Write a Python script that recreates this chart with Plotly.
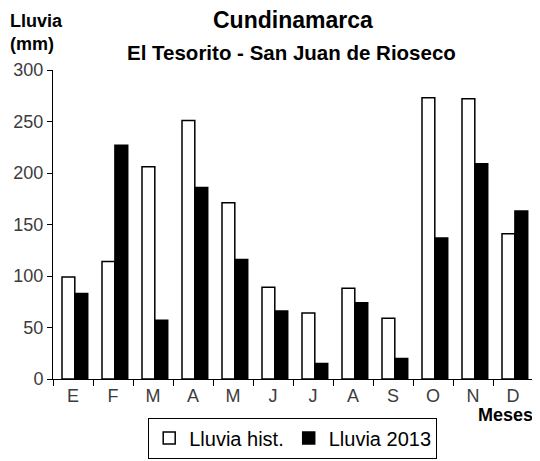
import plotly.graph_objects as go

meses = ["Enero", "Febrero", "Marzo", "Abril", "Mayo", "Junio",
         "Julio", "Agosto", "Septiembre", "Octubre", "Noviembre", "Diciembre"]
etiquetas = ["E", "F", "M", "A", "M", "J", "J", "A", "S", "O", "N", "D"]
lluvia_hist = [99, 114, 206, 251, 171, 89, 64, 88, 59, 273, 272, 141]
lluvia_2013 = [83, 227, 57, 186, 116, 66, 15, 74, 20, 137, 209, 163]

FONT = "Liberation Sans, Arial, sans-serif"

# page has an 8px body margin; figure coordinates = page coordinates - 8
OFF = 8
W, H = 540 - OFF, 461 - OFF
PL, PR, PT, PB = 53.3, 533.3, 70.0, 379.3   # plot area in page pixels
L = PL - OFF
R = W - (PR - OFF)
T = PT - OFF
B = H - (PB - OFF)
ph = H - T - B
pw = W - L - R


def py(ypage):
    return (H - B - (ypage - OFF)) / ph


def px(xpage):
    return ((xpage - OFF) - L) / pw


fig = go.Figure()
fig.add_trace(go.Bar(
    x=meses, y=lluvia_hist, name="Lluvia hist.",
    marker=dict(color="white", line=dict(color="black", width=1.5)),
    width=0.32, offset=-0.275,
))
fig.add_trace(go.Bar(
    x=meses, y=lluvia_2013, name="Lluvia 2013",
    marker=dict(color="black", line=dict(color="black", width=1.5)),
    width=0.32, offset=0.048,
))

fig.update_layout(
    width=W, height=H,
    margin=dict(l=L, r=R, t=T, b=B, autoexpand=False),
    paper_bgcolor="white", plot_bgcolor="white",
    barmode="overlay",
    font=dict(family=FONT, color="black"),
    showlegend=True,
    legend=dict(
        orientation="h", x=px(293), xanchor="center", y=py(459), yanchor="bottom",
        bordercolor="black", borderwidth=1, bgcolor="white",
        font=dict(size=20, color="black", family=FONT),
        itemwidth=30, tracegroupgap=0,
    ),
    xaxis=dict(
        type="category", categoryorder="array", categoryarray=meses,
        tickmode="array", tickvals=meses, ticktext=etiquetas,
        tickson="boundaries", ticks="outside", ticklen=6, tickcolor="black",
        showline=True, linecolor="black", linewidth=1,
        showgrid=False, zeroline=False, automargin=False,
        range=[-0.5, 11.5],
        tickfont=dict(size=18, color="#3c3c3c", family=FONT),
    ),
    yaxis=dict(
        range=[0, 300], dtick=50, tick0=0,
        ticks="outside", ticklen=5, tickcolor="black",
        showline=True, linecolor="black", linewidth=1,
        showgrid=False, zeroline=False, automargin=False,
        tickfont=dict(size=18, color="#3c3c3c", family=FONT),
    ),
)

fig.add_annotation(text="<b>Cundinamarca</b>", xref="paper", yref="paper",
                   x=px(293), y=py(20), xanchor="center", yanchor="middle", showarrow=False,
                   font=dict(size=23, color="black", family=FONT))
fig.add_annotation(text="<b>El Tesorito - San Juan de Rioseco</b>", xref="paper", yref="paper",
                   x=px(292), y=py(52), xanchor="center", yanchor="middle", showarrow=False,
                   font=dict(size=20.5, color="black", family=FONT))
fig.add_annotation(text="<b>Lluvia</b><br><b>(mm)</b>", xref="paper", yref="paper",
                   x=px(8), y=py(32), xanchor="left", yanchor="middle", showarrow=False,
                   align="left", font=dict(size=18, color="black", family=FONT))
fig.add_annotation(text="<b>Meses</b>", xref="paper", yref="paper",
                   x=px(535), y=py(415), xanchor="right", yanchor="middle", showarrow=False,
                   font=dict(size=18, color="black", family=FONT))

fig.write_html("out.html")
